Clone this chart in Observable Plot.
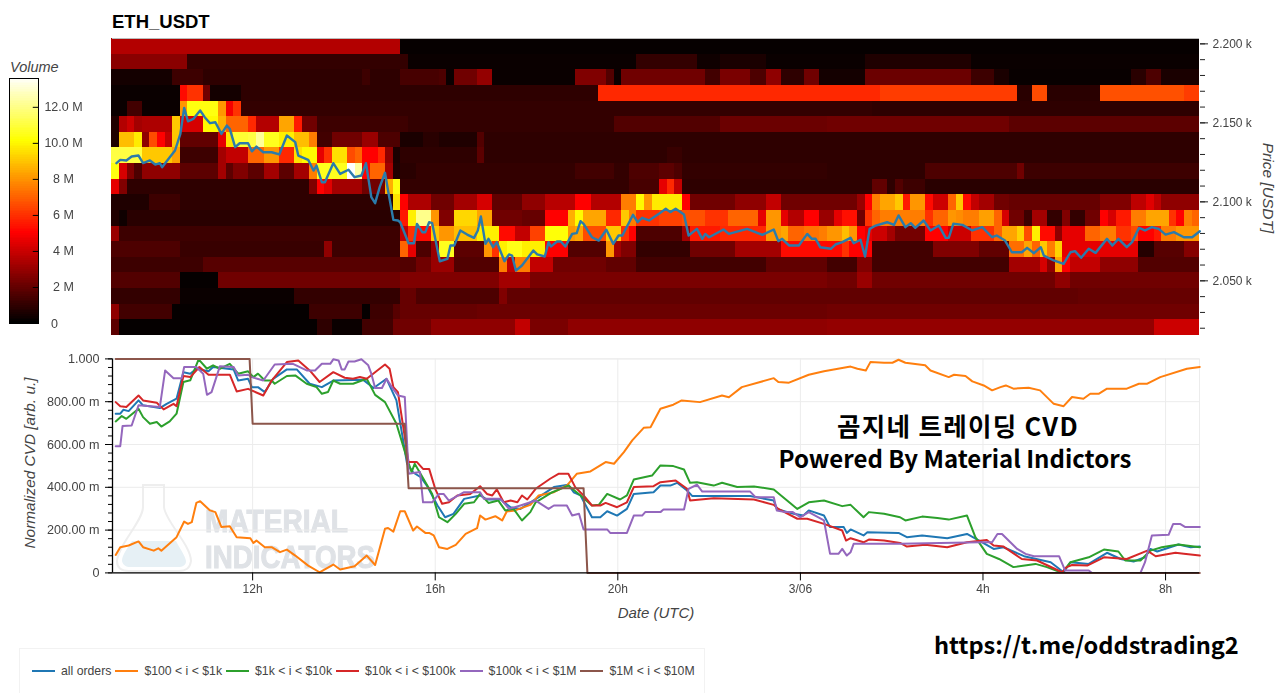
<!DOCTYPE html>
<html><head><meta charset="utf-8">
<script src="https://cdn.jsdelivr.net/npm/d3@7"></script>
<script src="https://cdn.jsdelivr.net/npm/@observablehq/plot@0.6"></script>
<style>
html,body{margin:0;padding:0;background:#fff;overflow:hidden}
#root{position:relative;width:1280px;height:693px;font-family:"Liberation Sans",Arial,sans-serif;overflow:hidden}
.abs{position:absolute;filter:blur(.35px)}
.abs svg{display:block}
.ann{font-family:"Noto Sans CJK KR","Noto Sans",sans-serif;font-weight:700;color:#000;white-space:nowrap;position:absolute}
.ttl{position:absolute;font-style:italic;color:#444;font-size:15px;white-space:nowrap}
#legend{position:absolute;left:19px;top:648px;width:686px;height:45px;border:1px solid #f2f2f2;border-bottom:none;box-sizing:border-box;display:flex;align-items:center;font-size:12.25px;color:#444;padding-left:12px}
#legend .sw{width:23px;height:2px;margin-right:6px;flex:none}
#legend .tx{margin-right:4px;white-space:nowrap}
</style></head><body><div id="root"></div>
<script>
// ---------- heatmap rows: pairs of [first 10-minute column, volume in millions]; row 0 is the top price bin
const volRow00=[[0,3.5],[38,.12]];
const volRow01=[[0,2.7],[10,1.0],[39,.2],[69,1.0],[77,.3],[80,.5],[86,.2],[99,.6],[113,.2]];
const volRow02=[[0,.4],[8,1.2],[12,.9],[33,1.2],[34,.9],[38,1.4],[43,1.5],[44,.2],[45,2.2],[48,2.9],[50,.2],[61,2.5],[65,1.6],[66,.2],[67,2.2],[78,1.3],[80,2.4],[84,1.5],[86,2.8],[88,.9],[91,2.2],[93,.4],[99,2.1],[113,1.2],[116,.5],[118,.15],[134,.8],[136,1.5],[138,.5]];
const volRow03=[[0,.2],[9,5.2],[10,6],[12,2.2],[13,.4],[17,.9],[64,5.8],[101,6.2],[119,.8],[121,6.5],[123,.8],[130,6.6],[141,6.2]];
const volRow04=[[0,.2],[2,1.3],[4,.2],[9,8],[10,10.3],[14,8],[15,4.8],[16,6],[17,1.0],[39,1.0],[100,.9]];
const volRow05=[[0,.6],[1,3.5],[2,4],[3,3.2],[4,3.4],[8,9],[9,4.2],[12,10],[14,8.5],[15,7],[18,5.8],[19,3.5],[22,8.3],[24,5.5],[25,2.2],[27,1.2],[39,1.0],[66,1.6],[80,2.1],[94,2.2],[118,1.8]];
const volRow06=[[0,.6],[1,8.8],[3,9.7],[4,2.8],[5,6.5],[6,5],[7,3.8],[8,9],[9,1.9],[14,4.5],[15,9.5],[16,10.8],[18,11],[19,12.2],[20,10.5],[22,9.8],[24,8.8],[26,7.5],[27,1.3],[29,2.2],[33,3],[35,1.5],[38,.5],[41,.8],[43,.6],[48,1.6],[49,.9]];
const volRow07=[[0,11],[4,9],[8,8.2],[9,1.2],[14,3.2],[15,3.8],[18,7],[20,8],[22,5.8],[24,9.5],[25,10],[27,4.5],[28,6],[29,9.5],[31,6.5],[32,7],[33,5],[35,5.8],[36,2.8],[37,.5],[38,.9],[48,1.8],[49,.9],[73,1.1],[75,.9]];
const volRow08=[[0,10.3],[1,4.2],[2,2.5],[3,1.5],[4,2.8],[9,1.8],[14,3.2],[15,1.8],[16,2.5],[18,1.8],[20,3.2],[22,1.8],[24,3.2],[26,7.5],[27,10.5],[31,13.6],[32,12.3],[33,5],[34,7],[36,3.2],[37,.6],[38,.8],[40,1.0],[61,1.3],[66,1.0],[68,1.5],[72,1.8],[74,1.5],[75,1.0],[94,.9],[107,1.5],[119,2.2],[120,1.2]];
const volRow09=[[0,4.5],[1,2.5],[2,.9],[26,2.5],[27,5],[28,4.4],[29,3.2],[33,2.2],[36,8.5],[37,10.3],[38,1.0],[68,1.4],[72,4.5],[73,5.8],[74,3.8],[75,.9],[100,1.9],[102,.9],[103,1.6],[104,1.2],[107,.8]];
const volRow10=[[0,.6],[5,1.2],[9,.9],[37,9.5],[38,5],[39,3.4],[42,2.2],[45,3.2],[48,4.2],[50,1.9],[54,2.8],[57,3.6],[61,5],[63,3.5],[67,7.5],[69,10],[70,8],[71,9.7],[75,5],[76,2.2],[82,2.8],[86,3.8],[88,2.2],[98,3],[99,5],[100,7.5],[101,8.3],[103,9],[104,5.5],[105,8],[107,5.2],[108,4],[110,7],[111,9],[112,5.2],[113,3.8],[114,3.2],[116,2.2],[118,2],[130,2.5],[134,3.7],[136,4.4],[137,3.7],[138,2.8]];
const volRow11=[[0,.6],[1,.3],[2,.8],[38,5.5],[39,9.8],[40,12],[42,8],[43,2.5],[45,9.3],[48,8.3],[50,2.2],[54,2],[57,5],[60,8.5],[61,10],[62,8.3],[65,5.8],[67,9],[68,7.5],[69,6],[72,6.3],[75,6.6],[78,6],[81,7],[85,4.5],[86,8],[88,4.5],[89,3.5],[91,5],[93,3],[95,4.5],[96,5.3],[98,2.2],[99,6],[100,7],[101,7.5],[107,6],[108,7],[110,8],[111,7.8],[112,7.5],[114,8.2],[116,7],[117,4.2],[118,2.2],[120,1.2],[121,3.2],[123,1],[125,2.5],[126,1],[128,2.2],[130,5],[131,4.2],[132,5.5],[134,7.5],[136,8.3],[139,6],[140,5],[141,7.5],[142,7]];
const volRow12=[[0,3],[1,1.2],[38,3.8],[39,6],[40,5.2],[42,9],[43,8],[45,8.8],[48,9.8],[51,5.2],[53,3.8],[55,6.3],[57,10.2],[60,8],[61,8.3],[62,6.5],[65,9],[67,6],[68,5],[69,1.5],[75,3.2],[76,5.5],[80,5.8],[86,8],[88,8.3],[89,7],[91,7.3],[93,7.5],[94,8],[96,8.8],[97,8],[98,5],[99,4.5],[100,4],[102,3.2],[103,2.3],[107,5],[110,4],[113,6],[116,7],[117,8.3],[119,9.2],[120,6.5],[121,9.8],[122,5.2],[124,2.8],[125,4.5],[128,7],[130,7.5],[132,6],[134,6.5],[135,5],[137,5.5],[138,7.5],[140,8]];
const volRow13=[[0,1.5],[9,1.1],[28,2.8],[29,1.2],[38,7],[39,4.5],[40,1.5],[42,3],[43,10.5],[45,1.8],[49,8],[50,6],[51,9.8],[52,10.4],[54,9.8],[57,5],[60,1.6],[65,8],[66,3.2],[67,2.5],[69,1],[76,2.2],[82,3.2],[88,5.2],[96,6],[97,5],[100,1.3],[108,2.5],[114,1.9],[118,7.2],[120,8.3],[121,7],[122,9],[123,7.5],[124,9.2],[125,4.5],[135,.7],[137,1.7],[141,2.6]];
const volRow14=[[0,1.2],[12,1.7],[38,1.6],[40,2.2],[42,3],[45,1.6],[51,7.5],[52,3.8],[53,7.5],[55,3.8],[58,2.2],[65,1.9],[69,1.3],[86,1.9],[94,1.3],[98,2.5],[100,1.3],[118,3.2],[122,4.2],[123,2.8],[124,8.3],[125,5],[126,3.8],[130,2.8],[135,1.6]];
const volRow15=[[0,1.6],[9,.1],[14,2.2],[38,2.5],[51,3.2],[55,2.4],[94,2.2],[98,3],[100,2.2],[124,2.8],[126,2.2]];
const volRow16=[[0,1],[9,.2],[24,1],[38,2],[40,1.5],[51,2.5],[52,1.9],[127,2.0]];
const volRow17=[[0,2.8],[1,1.3],[8,.1],[26,1.2],[33,.1],[34,1.2],[37,1.7],[38,2],[48,2.1],[94,2.2]];
const volRow18=[[0,1.8],[1,.1],[27,.9],[29,.2],[33,1.3],[37,2.2],[42,2.8],[53,3.8],[55,2.4],[60,2.8],[94,2.9],[137,4]];
const volRows=[volRow00,volRow01,volRow02,volRow03,volRow04,volRow05,volRow06,volRow07,volRow08,volRow09,volRow10,volRow11,volRow12,volRow13,volRow14,volRow15,volRow16,volRow17,volRow18];

// ---------- price line: [minutes after 09:00 UTC, price in USDT]
const priceLine=[[1,2124.5],[6,2126.6],[14,2126.2],[21,2128.7],[30,2129.3],[36,2124.5],[45,2126.2],[52,2123.6],[58,2124.5],[61,2121.9],[67,2125.7],[78,2132.5],[85,2143],[90,2159.5],[95,2151],[102,2152.5],[111,2157.8],[117,2153.6],[124,2149.8],[131,2150.4],[139,2143],[146,2148.3],[150,2146.2],[157,2134.6],[163,2137.1],[174,2137.1],[179,2132],[185,2135],[194,2131.4],[205,2131.4],[215,2130],[225,2142],[236,2137.8],[240,2129.3],[253,2126.6],[260,2119.8],[264,2123],[271,2112.4],[275,2112.4],[286,2124.5],[295,2117.7],[306,2120.3],[314,2115.6],[323,2116.7],[329,2124.5],[336,2103],[341,2099.2],[347,2109.3],[354,2118.4],[358,2107.2],[365,2088.6],[371,2088.2],[374,2087.1],[385,2073.8],[392,2073.8],[396,2086],[403,2080.8],[407,2080.8],[412,2087.1],[416,2086.5],[426,2062.4],[436,2063.9],[440,2072.4],[445,2072.4],[453,2081.9],[462,2079.3],[471,2077.2],[476,2081.9],[480,2090.7],[486,2073.4],[490,2076.6],[496,2071.3],[501,2074.5],[511,2062.4],[517,2066.7],[521,2066],[526,2056.5],[534,2059.7],[549,2069.2],[554,2066.7],[564,2065.4],[569,2074.5],[572,2071.7],[580,2074.9],[585,2074.9],[591,2071.7],[600,2079.7],[606,2080.2],[611,2087.8],[615,2086.1],[626,2077.6],[635,2075.5],[645,2082.3],[654,2073.4],[661,2078.7],[666,2078.7],[680,2091.8],[686,2087.1],[692,2089.9],[701,2088.2],[714,2092.4],[723,2095.6],[729,2093.5],[736,2095.6],[747,2092],[753,2078.7],[764,2082.9],[771,2076.6],[775,2079.7],[780,2077.6],[799,2082.5],[806,2079.7],[830,2082.9],[850,2079.1],[865,2082.5],[871,2075.1],[876,2076.6],[885,2072.4],[898,2072.4],[909,2079.7],[915,2076.6],[920,2076.6],[926,2071.3],[940,2070.3],[946,2073],[955,2074.5],[966,2077.2],[970,2073.8],[979,2076],[985,2065.4],[991,2082.9],[999,2085],[1014,2087.1],[1023,2085.4],[1029,2091.4],[1038,2084],[1045,2086.5],[1051,2083.5],[1062,2088.2],[1071,2081.9],[1082,2085],[1091,2077.2],[1095,2077.2],[1101,2086.1],[1113,2085.4],[1126,2081.9],[1139,2084],[1152,2077.6],[1158,2078.7],[1169,2075.5],[1178,2068.1],[1191,2068.1],[1198,2070.9],[1207,2067.5],[1216,2071.3],[1220,2066],[1233,2062.9],[1246,2060.8],[1255,2068.1],[1261,2068.8],[1269,2064.6],[1279,2070.3],[1288,2067.7],[1303,2076.6],[1310,2072.4],[1318,2076.6],[1329,2071.3],[1336,2074.5],[1345,2083.5],[1353,2081.9],[1362,2084],[1371,2082.9],[1380,2079.3],[1391,2080.8],[1404,2077.6],[1415,2077.6],[1425,2081.4]];

// ---------- CVD series: [minutes after 09:00 UTC, normalized value]
const cvdAll=[[0,.744],[6,.744],[10,.762],[17,.756],[30,.806],[36,.783],[58,.77],[67,.79],[80,.814],[89,.938],[98,.931],[106,.954],[122,.942],[128,.962],[155,.951],[161,.899],[174,.907],[179,.868],[187,.868],[196,.845],[207,.907],[225,.951],[238,.951],[255,.884],[271,.868],[286,.899],[325,.903],[339,.864],[356,.907],[369,.806],[383,.51],[391,.47],[401,.447],[409,.408],[423,.315],[433,.26],[444,.276],[458,.346],[479,.362],[488,.343],[506,.343],[519,.307],[532,.299],[549,.338],[576,.401],[595,.412],[602,.377],[611,.362],[626,.26],[637,.26],[646,.288],[659,.268],[672,.299],[681,.369],[707,.377],[716,.408],[729,.408],[738,.421],[751,.385],[758,.359],[786,.359],[834,.359],[865,.338],[869,.299],[891,.276],[904,.268],[911,.292],[931,.268],[939,.214],[957,.214],[961,.187],[966,.203],[983,.175],[988,.19],[1029,.187],[1040,.167],[1060,.175],[1093,.162],[1119,.182],[1139,.143],[1154,.112],[1167,.12],[1194,.078],[1229,.05],[1246,.003],[1255,.05],[1279,.042],[1303,.094],[1321,.065],[1338,.053],[1353,.073],[1360,.112],[1369,.1],[1397,.133],[1413,.12],[1425,.123]];
const cvd100to1k=[[0,.084],[6,.12],[17,.128],[30,.147],[36,.12],[50,.104],[56,.115],[60,.104],[80,.167],[90,.24],[95,.229],[100,.237],[106,.327],[111,.335],[124,.292],[131,.284],[139,.214],[150,.218],[159,.167],[177,.162],[181,.14],[185,.151],[196,.12],[205,.12],[216,.097],[225,.109],[236,.081],[253,.034],[268,.003],[286,.039],[295,.016],[314,.031],[330,.081],[341,.037],[354,.206],[358,.21],[365,.193],[374,.288],[380,.288],[391,.198],[396,.217],[407,.187],[412,.187],[418,.175],[425,.12],[436,.112],[447,.131],[460,.182],[475,.209],[479,.268],[486,.249],[499,.265],[508,.245],[514,.287],[525,.292],[545,.318],[556,.362],[576,.377],[593,.408],[606,.463],[624,.474],[644,.518],[655,.51],[668,.564],[679,.619],[694,.678],[703,.681],[716,.767],[733,.786],[744,.806],[768,.798],[797,.829],[806,.821],[823,.868],[865,.91],[871,.892],[885,.889],[911,.926],[931,.942],[966,.964],[975,.954],[986,.946],[992,.985],[1010,.982],[1021,.982],[1029,.996],[1038,.982],[1064,.97],[1071,.946],[1095,.915],[1102,.926],[1117,.92],[1126,.895],[1141,.876],[1152,.853],[1163,.868],[1170,.876],[1180,.861],[1200,.865],[1215,.853],[1233,.79],[1246,.779],[1257,.822],[1272,.814],[1281,.837],[1292,.837],[1303,.861],[1329,.861],[1345,.884],[1356,.884],[1373,.915],[1408,.954],[1425,.962]];
const cvd1kto10k=[[0,.708],[8,.733],[14,.72],[30,.767],[36,.728],[45,.697],[54,.705],[60,.684],[71,.708],[80,.744],[89,.892],[98,.9],[109,.998],[120,.954],[128,.97],[137,.954],[150,.977],[161,.931],[174,.942],[181,.915],[187,.931],[196,.899],[205,.899],[209,.884],[225,.92],[236,.923],[251,.884],[264,.868],[271,.837],[279,.845],[286,.899],[295,.884],[312,.884],[330,.907],[341,.832],[354,.798],[369,.697],[383,.533],[389,.471],[393,.51],[402,.455],[416,.369],[425,.26],[436,.237],[447,.276],[458,.323],[471,.33],[479,.369],[490,.327],[503,.338],[512,.292],[523,.299],[534,.245],[545,.284],[552,.33],[574,.377],[595,.408],[611,.362],[626,.315],[635,.318],[646,.369],[663,.343],[672,.362],[681,.436],[705,.455],[716,.502],[733,.499],[747,.483],[755,.421],[764,.424],[786,.408],[797,.421],[817,.401],[839,.404],[865,.39],[896,.299],[911,.33],[931,.338],[955,.312],[966,.318],[983,.26],[990,.284],[1010,.276],[1031,.26],[1038,.245],[1060,.263],[1080,.256],[1095,.249],[1119,.268],[1130,.167],[1145,.089],[1161,.065],[1180,.027],[1209,.042],[1224,.027],[1244,0],[1255,.05],[1279,.073],[1299,.109],[1318,.1],[1327,.058],[1347,.058],[1360,.104],[1375,.12],[1397,.133],[1425,.12]];
const cvd10kto100k=[[0,.798],[6,.779],[14,.775],[30,.829],[36,.806],[54,.795],[63,.764],[76,.79],[80,.779],[89,.92],[98,.915],[110,.962],[122,.926],[150,.926],[159,.848],[174,.86],[194,.829],[205,.899],[225,.985],[240,.993],[255,.946],[268,.892],[286,.938],[301,.912],[312,.907],[321,.915],[330,.907],[354,.974],[360,.954],[365,.868],[371,.845],[385,.518],[396,.518],[404,.486],[412,.486],[420,.393],[429,.323],[438,.33],[449,.362],[466,.369],[479,.405],[488,.369],[495,.362],[501,.39],[510,.33],[519,.338],[528,.33],[534,.362],[541,.343],[552,.393],[571,.44],[582,.463],[595,.463],[604,.401],[615,.362],[626,.315],[637,.315],[644,.327],[659,.307],[672,.33],[681,.401],[707,.405],[716,.424],[736,.432],[751,.393],[755,.338],[786,.349],[839,.343],[865,.318],[871,.299],[896,.253],[909,.253],[931,.229],[955,.198],[960,.151],[966,.162],[983,.143],[990,.156],[1010,.151],[1031,.14],[1040,.123],[1064,.131],[1093,.12],[1119,.143],[1145,.154],[1154,.128],[1167,.123],[1191,.065],[1211,.058],[1244,.003],[1250,.027],[1257,.037],[1277,.034],[1299,.073],[1329,.065],[1356,.104],[1367,.078],[1393,.094],[1404,.089],[1425,.081]];
const cvd100kto1M=[[0,.592],[6,.592],[9,.686],[21,.689],[30,.783],[58,.775],[65,.946],[76,.91],[87,.91],[90,.962],[106,.962],[115,.931],[120,.832],[126,.845],[137,.966],[155,.962],[161,.923],[174,.926],[179,.915],[194,.899],[209,.974],[233,.977],[251,.946],[262,.946],[271,.977],[282,.977],[286,.998],[293,.993],[297,.951],[301,.951],[306,.988],[314,.988],[323,.998],[332,.97],[336,.931],[341,.864],[350,.864],[356,.907],[363,.868],[371,.829],[380,.822],[385,.463],[400,.471],[404,.33],[416,.33],[425,.369],[431,.369],[438,.338],[458,.377],[479,.377],[484,.346],[506,.346],[517,.299],[532,.315],[552,.338],[569,.299],[576,.315],[593,.315],[600,.268],[609,.276],[615,.203],[646,.203],[650,.187],[672,.187],[681,.268],[692,.268],[696,.284],[716,.284],[720,.296],[747,.296],[753,.393],[764,.412],[771,.38],[834,.38],[841,.354],[865,.354],[869,.292],[880,.284],[890,.284],[900,.26],[911,.284],[931,.245],[939,.089],[950,.089],[955,.112],[961,.081],[966,.097],[970,.136],[1031,.136],[1137,.143],[1152,.143],[1159,.182],[1165,.182],[1176,.143],[1185,.112],[1196,.089],[1207,.078],[1240,.078],[1248,.011],[1279,.011],[1283,0],[1347,0],[1353,.05],[1362,.175],[1384,.178],[1390,.229],[1399,.229],[1406,.214],[1425,.214]];
const cvd1Mto10M=[[0,1],[176,1],[180,.697],[380,.697],[385,.396],[615,.396],[620,0],[1425,0]];

const cvdSeries=[cvdAll,cvd100to1k,cvd1kto10k,cvd10kto100k,cvd100kto1M,cvd1Mto10M];
const seriesNames=["all orders","$100 < i < $1k","$1k < i < $10k","$10k < i < $100k","$100k < i < $1M","$1M < i < $10M"];
const seriesColors=["#1f77b4","#ff7f0e","#2ca02c","#d62728","#9467bd","#8c564b"];

// ---------- axes
const timeTicks=[180,420,660,900,1140,1380];
const timeLabels=["12h","16h","20h","3/06","4h","8h"];
const cvdTicks=[0,.2,.4,.6,.8,1];
const cvdLabels=["0","200.00 m","400.00 m","600.00 m","800.00 m","1.000"];
const cvdMinor=d3.range(0,1.001,.04);
const priceTicks=[2050,2100,2150,2200];
const priceLabels=["2.050 k","2.100 k","2.150 k","2.200 k"];
const priceMinor=d3.range(2020,2201,10);
const volumeTicks=[0,2,4,6,8,10,12];
const volumeLabels=["0","2 M","4 M","6 M","8 M","10.0 M","12.0 M"];
const volumeMax=13.6;
const timeDomain=[-4.2,1424.6];
const priceDomain=[2015.4,2203.4];
const colorScale={type:"linear",domain:[0,5,10.1,volumeMax],range:["#000000","#ff0000","#ffff00","#ffffff"]};

const root=document.getElementById("root");
function place(el,left,topPx){const d=document.createElement("div");d.className="abs";d.style.left=left+"px";d.style.top=topPx+"px";d.appendChild(el);root.appendChild(d);return d;}
function note(cls,text,css){const d=document.createElement("div");d.className=cls;d.textContent=text;Object.assign(d.style,css);root.appendChild(d);return d;}
const baseStyle={background:"transparent",fontFamily:"'Liberation Sans',Arial,sans-serif",fontSize:"12px"};

// ---------- heatmap cells
const binH=(priceDomain[1]-priceDomain[0])/volRows.length;
const cells=volRows.flatMap((row,i)=>row.map(([c,v],j)=>({
  t1:c*10-5,
  t2:(j+1<row.length?row[j+1][0]:143)*10-5,
  p2:priceDomain[1]-i*binH,
  p1:priceDomain[1]-(i+1)*binH,
  v})));

const heatPanel=Plot.plot({width:1280,height:345,marginLeft:112,marginRight:81,marginTop:38,marginBottom:10,style:baseStyle,
  x:{domain:timeDomain,axis:null},
  y:{domain:priceDomain,axis:null},
  color:colorScale,
  marks:[
    Plot.rect(cells,{x1:"t1",x2:"t2",y1:"p1",y2:"p2",fill:"v",shapeRendering:"crispEdges"}),
    Plot.line(priceLine,{x:d=>d[0],y:d=>d[1],stroke:"#2b7bab",strokeWidth:2.4,strokeLinejoin:"round"}),
    Plot.axisY(priceTicks,{anchor:"right",tickSize:8,tickPadding:5,stroke:"#222",fill:"#444",fontSize:12,label:null,tickFormat:d=>priceLabels[priceTicks.indexOf(d)]}),
    Plot.axisY(priceMinor,{anchor:"right",tickSize:5,stroke:"#222",label:null,tickFormat:()=>""}),
    Plot.ruleY([priceDomain[1]],{stroke:"#bbb"})
  ]});
place(heatPanel,0,0);

// ---------- colour bar
const ramp=d3.range(0,volumeMax,.1);
const colorBar=Plot.plot({width:100,height:280,marginLeft:9,marginRight:62,marginTop:18,marginBottom:17,style:baseStyle,
  x:{domain:[0,1],axis:null},
  y:{domain:[0,volumeMax],axis:null},
  color:colorScale,
  marks:[
    Plot.rect(ramp,{x1:0,x2:1,y1:d=>d,y2:d=>d+.1,fill:d=>d,shapeRendering:"crispEdges"}),
    Plot.ruleY(volumeTicks.slice(1),{x1:.82,x2:1,stroke:"#000"}),
    Plot.text(volumeTicks.slice(1),{x:1,y:d=>d,text:d=>volumeLabels[volumeTicks.indexOf(d)],dx:25,fill:"#444",fontSize:12.5,textAnchor:"middle"}),
    Plot.text([0],{x:1,y:d=>d,text:d=>volumeLabels[0],dx:16,fill:"#444",fontSize:12.5,textAnchor:"middle"}),
    Plot.frame({stroke:"#000"})
  ]});
place(colorBar,0,60);

// ---------- watermark (behind the CVD panel)
const wm=document.createElementNS("http://www.w3.org/2000/svg","svg");
wm.setAttribute("width",420);wm.setAttribute("height",110);
wm.innerHTML=`<path d="M28 2 H49 V24 C50 38 76 62 76 78 C75 86 70 88 64 88 H14 C7 88 2 86 2 78 C3 62 28 38 28 24 Z" fill="none" stroke="#eeeeee" stroke-width="2"/>
<path d="M17 58 C12 66 7 72 7 78 C8 82 11 84 15 84 H63 C68 84 71 82 71 78 C70 72 65 66 61 58 Z" fill="#e6f0f5"/>
<text x="90" y="49" font-family="'Liberation Sans Narrow','Liberation Sans',sans-serif" font-weight="700" font-size="32" fill="#dfe2e6" stroke="#dfe2e6" stroke-width="1" textLength="143" lengthAdjust="spacingAndGlyphs">MATERIAL</text>
<text x="90" y="85" font-family="'Liberation Sans Narrow','Liberation Sans',sans-serif" font-weight="700" font-size="32" fill="#dfe2e6" stroke="#dfe2e6" stroke-width="1" textLength="170" lengthAdjust="spacingAndGlyphs">INDICATORS</text>`;
place(wm,115,483);

// ---------- CVD panel
const cvdPanel=Plot.plot({width:1280,height:280,marginLeft:112,marginRight:81,marginTop:13.4,marginBottom:52.6,style:baseStyle,
  x:{domain:timeDomain,axis:null},
  y:{domain:[0,1],axis:null},
  marks:[
    Plot.frame({stroke:"#ececec"}),
    Plot.ruleY(cvdTicks,{stroke:"#ececec"}),
    Plot.ruleX(timeTicks,{stroke:"#ececec"}),
    ...cvdSeries.map((s,i)=>Plot.line(s,{x:d=>d[0],y:d=>d[1],stroke:seriesColors[i],strokeWidth:2,strokeLinejoin:"round"})),
    Plot.ruleY([0],{stroke:"#000",strokeWidth:1.3}),
    Plot.ruleX([timeDomain[0]],{stroke:"#000",strokeWidth:1.3}),
    Plot.axisX(timeTicks,{anchor:"bottom",tickSize:8,tickPadding:4,stroke:"#000",fill:"#444",fontSize:12,label:null,tickFormat:d=>timeLabels[timeTicks.indexOf(d)]}),
    Plot.axisY(cvdTicks,{anchor:"left",tickSize:7,tickPadding:6,stroke:"#000",fill:"#444",fontSize:12.6,label:null,tickFormat:d=>cvdLabels[cvdTicks.findIndex(t=>Math.abs(t-d)<1e-6)]}),
    Plot.axisY(cvdMinor,{anchor:"left",tickSize:4,stroke:"#000",label:null,tickFormat:()=>""})
  ]});
place(cvdPanel,0,345);

// ---------- titles and annotations
note("ann","ETH_USDT",{left:"112px",top:"12px",fontFamily:"'Liberation Sans',Arial,sans-serif",fontSize:"18.5px",lineHeight:"20px"});
note("ttl","Volume",{left:"10px",top:"59px",fontSize:"14.5px",lineHeight:"16px"});
note("ttl","Normalized CVD [arb. u.]",{left:"30px",top:"463px",fontSize:"15.4px",transform:"translate(-50%,-50%) rotate(-90deg)"});
note("ttl","Date (UTC)",{left:"656px",top:"612px",transform:"translate(-50%,-50%)"});
note("ttl","Price [USDT]",{left:"1268px",top:"188px",fontSize:"15.5px",transform:"translate(-50%,-50%) rotate(90deg)"});
note("ann","곰지네 트레이딩 CVD",{left:"958px",top:"425px",fontSize:"25.5px",letterSpacing:"1.3px",lineHeight:"30px",transform:"translate(-50%,-50%)"});
note("ann","Powered By Material Indictors",{left:"955px",top:"458px",fontSize:"24px",lineHeight:"30px",transform:"translate(-50%,-50%)"});
note("ann","https://t.me/oddstrading2",{left:"934px",top:"644px",fontSize:"23.6px",lineHeight:"30px",transform:"translateY(-50%)"});

// ---------- legend
const lg=document.createElement("div");lg.id="legend";
seriesNames.forEach((n,i)=>{
  const s=document.createElement("div");s.className="sw";s.style.background=seriesColors[i];lg.appendChild(s);
  const t=document.createElement("div");t.className="tx";t.textContent=n;lg.appendChild(t);
});
root.appendChild(lg);
</script></body></html>
